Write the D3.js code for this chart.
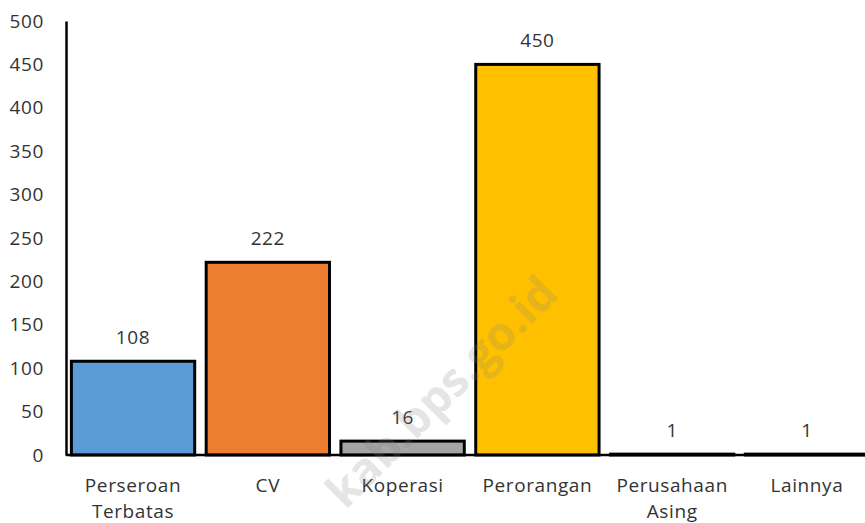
<!DOCTYPE html>
<html>
<head>
<meta charset="utf-8">
<script src="https://cdn.jsdelivr.net/npm/d3@7"></script>
<style>
  body { margin: 0; background: #fff; }
  text { font-family: "Open Sans", sans-serif; fill: #333; letter-spacing: 0.6px; }
</style>
</head>
<body>
<div id="chart"></div>
<script>
var categories = [["Perseroan", "Terbatas"], ["CV"], ["Koperasi"], ["Perorangan"], ["Perusahaan", "Asing"], ["Lainnya"]];
var values = [108, 222, 16, 450, 1, 1];
var colors = ["#5b9bd5", "#ed7d31", "#a5a5a5", "#ffc000", "#404040", "#404040"];
var yTicks = [0, 50, 100, 150, 200, 250, 300, 350, 400, 450, 500];

var width = 865, height = 523;
var x0 = 66, x1 = 874, yTop = 21, yBottom = 455;

var svg = d3.select("#chart").append("svg")
  .attr("width", width)
  .attr("height", height);

var keys = categories.map(function(d) { return d.join(" "); });

var xScale = d3.scaleBand().domain(keys).range([x0, x1])
  .paddingInner(0.085).paddingOuter(0.04);
var yScale = d3.scaleLinear().domain([0, 500]).range([yBottom, yTop]);

// bars
svg.selectAll(".bar")
  .data(values)
  .enter().append("rect")
  .attr("class", "bar")
  .attr("x", function(d, i) { return xScale(keys[i]); })
  .attr("y", function(d) { return yScale(d); })
  .attr("width", xScale.bandwidth())
  .attr("height", function(d) { return yBottom - yScale(d); })
  .style("fill", function(d, i) { return colors[i]; })
  .style("stroke", "#000")
  .style("stroke-width", 3);

// value labels
svg.selectAll(".val")
  .data(values)
  .enter().append("text")
  .attr("class", "val")
  .attr("x", function(d, i) { return xScale(keys[i]) + xScale.bandwidth() / 2; })
  .attr("y", function(d) { return yScale(d) - 17; })
  .attr("text-anchor", "middle")
  .style("font-size", "19px")
  .text(function(d) { return d; });

// y axis
var yAxis = svg.append("g")
  .attr("transform", "translate(" + x0 + ",0)")
  .call(d3.axisLeft(yScale).tickValues(yTicks).tickSize(0).tickPadding(22));
yAxis.select(".domain").attr("stroke", "#000").attr("stroke-width", 2.5);
yAxis.selectAll("text").style("font-size", "19px").style("font-family", "'Open Sans', sans-serif").attr("fill", "#333");

// x axis
var xAxis = svg.append("g")
  .attr("transform", "translate(0," + yBottom + ")")
  .call(d3.axisBottom(xScale).tickSize(0).tickFormat(""));
xAxis.select(".domain").attr("d", "M" + x0 + ",0H" + width).attr("stroke", "#000").attr("stroke-width", 2.5);

var lab = svg.selectAll(".cat")
  .data(categories)
  .enter().append("text")
  .attr("class", "cat")
  .attr("x", function(d, i) { return xScale(keys[i]) + xScale.bandwidth() / 2; })
  .attr("y", 492)
  .attr("text-anchor", "middle")
  .style("font-size", "19px");
lab.selectAll("tspan")
  .data(function(d) { return d; })
  .enter().append("tspan")
  .attr("x", function() { return d3.select(this.parentNode).attr("x"); })
  .attr("dy", function(d, i) { return i ? 26 : 0; })
  .text(function(d) { return d; });

// watermark
svg.append("text")
  .attr("transform", "translate(560,296) rotate(-45)")
  .attr("text-anchor", "end")
  .style("font-size", "46px")
  .style("font-weight", "bold")
  .style("letter-spacing", "0px")
  .style("fill", "#808080")
  .style("opacity", 0.2)
  .text("kab.bps.go.id");
</script>
</body>
</html>
